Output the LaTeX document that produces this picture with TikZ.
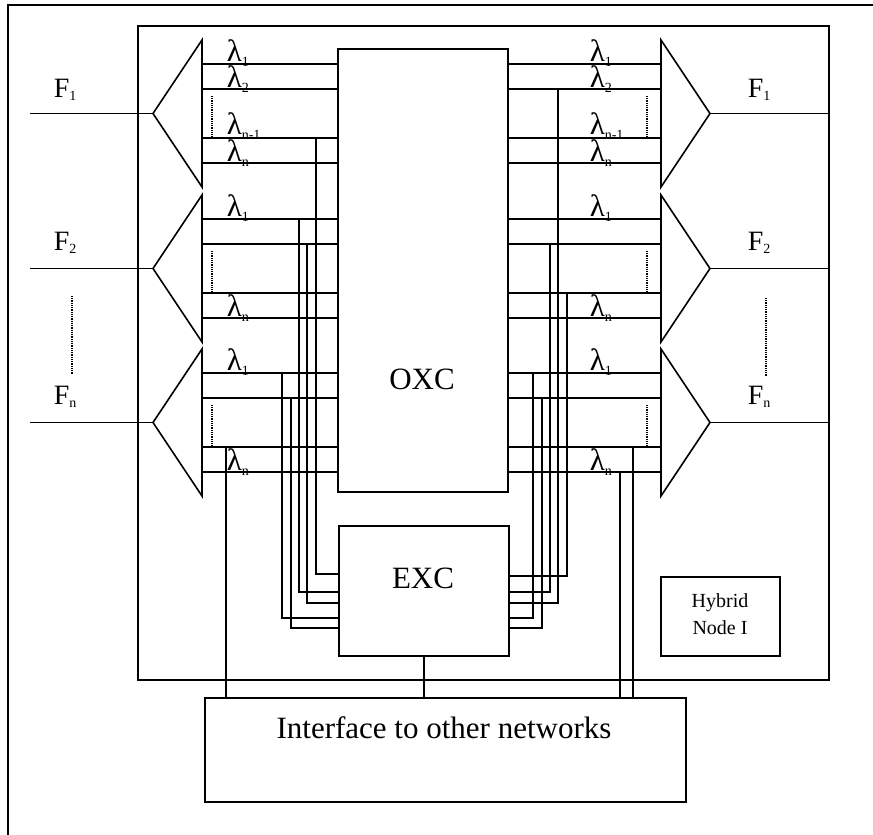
\documentclass[tikz,border=0pt]{standalone}
\usepackage{fontspec}
\setmainfont{Liberation Serif}
\usetikzlibrary{positioning}

\newcommand{\wl}[1]{{\fontsize{31}{31}\selectfont λ}\raisebox{-5pt}{\fontsize{14}{14}\selectfont #1}}
\newcommand{\fib}[1]{{\fontsize{28}{28}\selectfont F}\raisebox{-3pt}{\fontsize{14}{14}\selectfont #1}}

\begin{document}
\begin{tikzpicture}[x=1pt, y=-1pt, line width=1.6pt,
 box/.style={draw, line width=1.7pt, inner sep=0pt, anchor=north west},
 dots/.style={line width=1.2pt, dash pattern=on 0.9pt off 0.9pt},
 lam/.style={anchor=base west, inner sep=0pt},
 big/.style={font=\fontsize{31}{31}\selectfont, anchor=base, inner sep=0pt}]

 \useasboundingbox (0,0) rectangle (873,835);
 \draw[line width=1.7pt] (8,5) rectangle (876,838);

 % --- boxes ---
 \node[box, minimum width=691pt, minimum height=654pt] (hnode) at (137,25) {};
 \node[box, minimum width=170pt, minimum height=443pt] (oxc) at (337,48) {};
 \node[box, minimum width=170pt, minimum height=130pt] (exc) at (338,525) {};
 \node[box, minimum width=481pt, minimum height=104pt] (iface) at (204,697) {};
 \node[box, minimum width=119pt, minimum height=79pt] (hyb) at (660,576) {};

 \node[big] (oxct) at (422,389) {OXC};
 \node[big] (exct) at (423,588) {EXC};
 \node[big] (ifacet) at (444,738) {Interface to other networks};
 \node[font=\fontsize{20}{27}\selectfont, align=center, inner sep=0pt] (hybt) at (720,614) {Hybrid\\Node I};

 % --- demux / mux ---
 \foreach \t [count=\i] in {40,195,349} {
  \coordinate (dmx\i) at (153,\t+73.5);
  \coordinate (mux\i) at (710,\t+73.5);
  \coordinate (fin\i) at (30,\t+73.5);
  \draw (202,\t) -- (dmx\i) -- (202,\t+147) -- cycle;
  \draw (661,\t) -- (mux\i) -- (661,\t+147) -- cycle;
  \draw (fin\i) -- (dmx\i);
  \draw (mux\i) -- (mux\i -| hnode.east);
  \foreach \d in {24,49,98,123} {
   \coordinate (in\i-\d) at (202,\t+\d);
   \coordinate (out\i-\d) at (661,\t+\d);
   \draw (in\i-\d) -- (in\i-\d -| oxc.west);
   \draw (oxc.east |- out\i-\d) -- (out\i-\d);
  }
  \draw[dots] (212,\t+56) -- (212,\t+96);
  \draw[dots] (647,\t+56) -- (647,\t+96);
 }

 \foreach \y/\s in {97/1,250/2,404/n} {
  \node[lam] at (53,\y) {\fib{\s}};
  \node[lam] at (747,\y) {\fib{\s}};
 }
 \draw[dots] (72,296) -- (72,374);
 \draw[dots] (766,298) -- (766,376);

 % --- wavelength labels ---
 \foreach \y/\s in {61/1,87/2,134/{n-1},161/n,216/1,316/n,370/1,470/n} {
  \node[lam] at (226,\y) {\wl{\s}};
  \node[lam] at (589,\y) {\wl{\s}};
 }

 % --- OXC to EXC ---
 \foreach \x/\ys/\yb in {316/138/574, 299/219/592, 307/244/603, 282/373/618, 291/398/628}
  \draw (\x,\ys) |- (exc.west |- 0,\yb);
 \foreach \x/\ys/\yb in {558/89/603, 550/244/592, 567/293/576, 533/373/618, 542/398/628}
  \draw (\x,\ys) |- (exc.east |- 0,\yb);

 % --- to interface ---
 \draw (exc.south) -- (exc.south |- iface.north);
 \draw (226,447) -- (iface.north -| 226,0);
 \draw (633,447) -- (iface.north -| 633,0);
 \draw (620,472) -- (iface.north -| 620,0);
\end{tikzpicture}
\end{document}
